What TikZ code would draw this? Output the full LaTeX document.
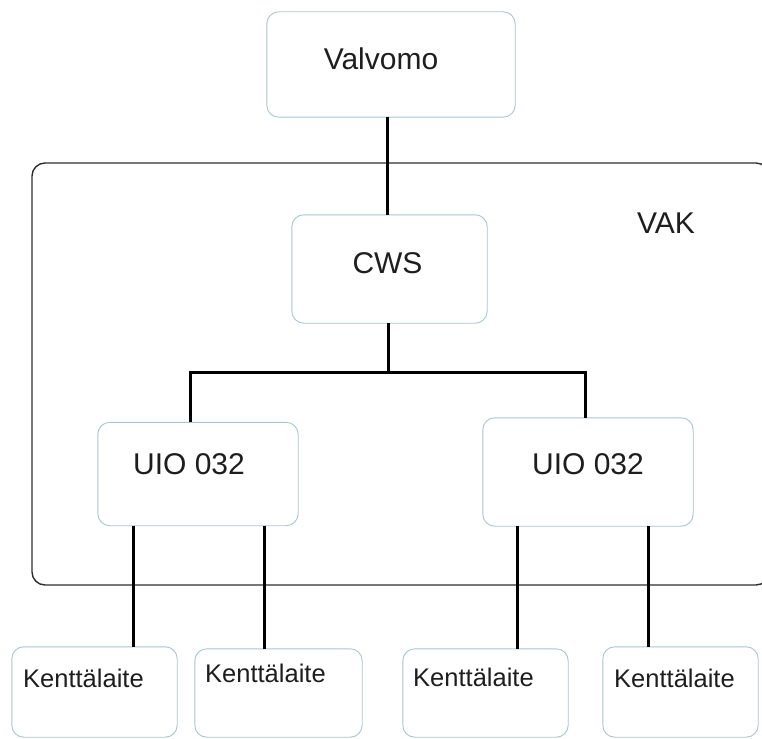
\documentclass[tikz,border=0pt]{standalone}
\usepackage{fontspec}
\setmainfont{Liberation Sans}
\definecolor{boxline}{HTML}{A9C6CF}
\definecolor{frameline}{HTML}{2E2E2E}
\definecolor{txt}{HTML}{1E1E1E}
\begin{document}
\begin{tikzpicture}[x=1pt,y=-1pt,
  box/.style={draw=boxline, line width=0.9pt, fill=white, rounded corners=12pt},
  frame/.style={draw=frameline, line width=1.4pt, rounded corners=13pt},
  link/.style={draw=black, line width=3pt},
  slot/.style={inner sep=0pt},
  big/.style={text=txt, font=\fontsize{30}{36}\selectfont, inner sep=0pt, anchor=base},
  small/.style={text=txt, font=\fontsize{25.5}{30}\selectfont, inner sep=0pt, anchor=base west}]
\useasboundingbox (0,0) rectangle (762,738);

% VAK enclosure (its right edge runs past the page border)
\draw[frame] (32,163) rectangle (769,585);
\node[big] (vak) at (666,233) {VAK};

% box outlines
\node[slot, minimum width=248pt, minimum height=105pt] (valvomo) at (391,64.5) {};
\node[slot, minimum width=195pt, minimum height=108pt] (cws) at (389.5,269) {};
\node[slot, minimum width=200pt, minimum height=103pt] (uioA) at (198,474) {};
\node[slot, minimum width=210pt, minimum height=108pt] (uioB) at (588,472) {};
\node[slot, minimum width=165pt, minimum height=90pt] (kA) at (94.5,692) {};
\node[slot, minimum width=167pt, minimum height=88pt] (kB) at (278.5,693) {};
\node[slot, minimum width=165pt, minimum height=88pt] (kC) at (485.5,693) {};
\node[slot, minimum width=155pt, minimum height=90pt] (kD) at (680.5,692) {};
\foreach \n in {valvomo,cws,uioA,uioB,kA,kB,kC,kD}
  \path[box] (\n.north west) rectangle (\n.south east);

% labels
\node[big] (tValvomo) at (381,70) {Valvomo};
\node[big] (tCws) at (387.5,273) {CWS};
\node[big] (tUioA) at (189,474) {UIO 032};
\node[big] (tUioB) at (588,474) {UIO 032};
\node[small] (tKA) at (23,687) {Kenttälaite};
\node[small] (tKB) at (205,682) {Kenttälaite};
\node[small] (tKC) at (413,686) {Kenttälaite};
\node[small] (tKD) at (614,687) {Kenttälaite};

% connectors
\draw[link] ([xshift=-4pt]valvomo.south) -- ([xshift=-4pt]valvomo.south |- cws.north);
\coordinate (bar) at (388,372);
\draw[link] ([xshift=-1.5pt]cws.south) -- ([xshift=-1.5pt]cws.south |- bar);
\draw[link] ([xshift=-8pt]uioA.north) |- (bar) -| ([xshift=-3pt]uioB.north);
\draw[link] ([xshift=-65pt]uioA.south) coordinate (a1) -- (a1 |- kA.north);
\draw[link] ([xshift=66pt]uioA.south) coordinate (a2) -- (a2 |- kB.north);
\draw[link] ([xshift=-71pt]uioB.south) coordinate (b1) -- (b1 |- kC.north);
\draw[link] ([xshift=60pt]uioB.south) coordinate (b2) -- (b2 |- kD.north);
\end{tikzpicture}
\end{document}
